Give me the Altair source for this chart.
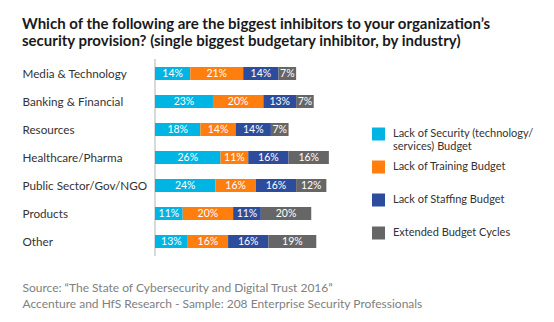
import altair as alt
import pandas as pd

categories = ["Media & Technology", "Banking & Financial", "Resources", "Healthcare/Pharma",
              "Public Sector/Gov/NGO", "Products", "Other"]
series = ["Lack of Security (technology/ services) Budget", "Lack of Training Budget",
          "Lack of Staffing Budget", "Extended Budget Cycles"]
security = [14, 23, 18, 26, 24, 11, 13]
training = [21, 20, 14, 11, 16, 20, 16]
staffing = [14, 13, 14, 16, 16, 11, 16]
cycles = [7, 7, 7, 16, 12, 20, 19]
colors = ["#00B4E3", "#FF7E0E", "#2E4C9C", "#666666"]

title_lines = ["Which of the following are the biggest inhibitors to your organization\u2019s",
               "security provision? (single biggest budgetary inhibitor, by industry)"]
source_lines = ["Source: \u201cThe State of Cybersecurity and Digital Trust 2016\u201d",
                "Accenture and HfS Research - Sample: 208 Enterprise Security Professionals"]

rows = []
for i, (name, vals) in enumerate(zip(series, [security, training, staffing, cycles])):
    for c, v in zip(categories, vals):
        rows.append({"category": c, "series": name, "order": i, "value": v})
df = pd.DataFrame(rows)

FONT = "Lato"
TFONT = "Liberation Sans Narrow, Lato"

base = alt.Chart(df).transform_stack(
    stack="value", groupby=["category"], as_=["x0", "x1"],
    sort=[alt.SortField("order", order="ascending")]
).transform_calculate(
    mid="(datum.x0 + datum.x1) / 2",
    label="datum.value + '%'"
)

yscale = alt.Scale(paddingInner=0.54, paddingOuter=0.27)
xscale = alt.Scale(domain=[0, 100])

xaxis = alt.Axis(labels=False, ticks=False, grid=False, domain=False,
                 title=source_lines, titleAnchor="start", titleX=-133, titleY=36,
                 titleFont=FONT, titleFontSize=12, titleFontWeight="normal",
                 titleColor="#808080", titleLineHeight=16, titleAlign="left",
                 titleBaseline="alphabetic")
yaxis = alt.Axis(title=None, ticks=False, tickSize=0, labelAlign="left",
                 labelPadding=133, labelFont=FONT, labelFontSize=11.7,
                 labelColor="#333333", domain=False, grid=False)

# light vertical baseline at 0%
baseline = alt.Chart(df).mark_rule(color="#d8d8d8", strokeWidth=1.5).encode(
    x=alt.datum(0, scale=xscale, axis=xaxis)
)

bars = base.mark_bar(size=13).encode(
    x=alt.X("x0:Q", scale=xscale, axis=xaxis),
    x2="x1:Q",
    y=alt.Y("category:N", sort=categories, scale=yscale, axis=yaxis),
    color=alt.Color("series:N", scale=alt.Scale(domain=series, range=colors),
                    legend=alt.Legend(title=None, orient="none", legendX=217, legendY=68,
                                      symbolType="square", symbolSize=169, symbolStrokeWidth=0,
                                      labelFont=FONT, labelFontSize=11, labelColor="#333333",
                                      labelOffset=8, labelLimit=300, rowPadding=8, padding=0,
                                      gridAlign="all",
                                      labelExpr="datum.label == 'Lack of Security (technology/ services) Budget' ? ['Lack of Security (technology/', 'services) Budget'] : datum.label"))
)

text = base.mark_text(color="white", fontSize=10.5, font=FONT).encode(
    x=alt.X("mid:Q", scale=xscale, axis=xaxis),
    y=alt.Y("category:N", sort=categories, scale=yscale, axis=yaxis),
    text="label:N"
)

chart = alt.layer(baseline, bars, text).properties(
    width=252, height=196,
    background="white",
    view=alt.ViewBackground(stroke="transparent", strokeWidth=0),
    autosize=alt.AutoSizeParams(type="none"),
    padding={"left": 155, "top": 59.5, "right": 147, "bottom": 66.5},
    title=alt.TitleParams(text=title_lines, anchor="start", frame="group", dx=-133,
                          font=TFONT, fontSize=15, fontWeight="bold", color="#1a1a1a",
                          lineHeight=17, offset=10)
).configure_axis(domain=False, grid=False).configure_view(stroke="transparent", strokeWidth=0)

chart.save("out.html", embed_options={"renderer": "svg", "actions": False})
